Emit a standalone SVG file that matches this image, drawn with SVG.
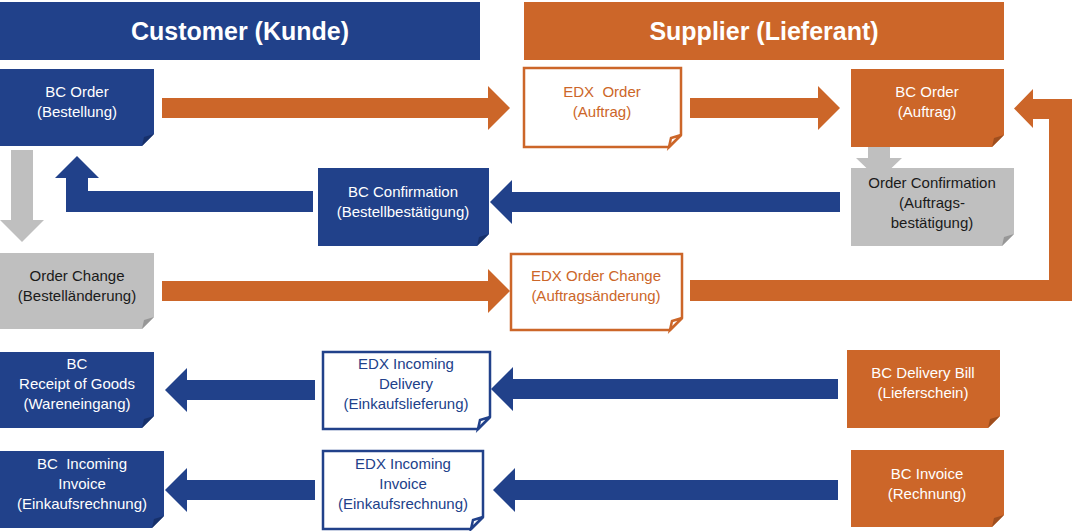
<svg xmlns="http://www.w3.org/2000/svg" width="1072" height="531" viewBox="0 0 1072 531">
<style>
.hdr{font-family:"Liberation Sans",Arial,sans-serif;font-weight:bold;font-size:25px;fill:#fff;text-anchor:middle}
.t{font-family:"Liberation Sans",Arial,sans-serif;font-size:15px;text-anchor:middle}
.w{fill:#fff}.k{fill:#1a1a1a}.ob{fill:#CC6629}.bb{fill:#21418A}
.blue{fill:#21418A}.orange{fill:#CC6629}.gray{fill:#BFBFBF}
.bfold{fill:#17306A}.ofold{fill:#9E4E1E}.gfold{fill:#979797}
.oout{fill:#fff;stroke:#CC6629;stroke-width:2.5}
.bout{fill:#fff;stroke:#21418A;stroke-width:2.5}
</style>
<rect fill="#fff" x="0" y="0" width="1072" height="531"/>
<g id="header-customer"><rect class="blue" x="0" y="2" width="480" height="58"/><text class="hdr" x="240" y="40">Customer (Kunde)</text></g>
<g id="header-supplier"><rect class="orange" x="524" y="2" width="480" height="58"/><text class="hdr" x="764" y="40">Supplier (Lieferant)</text></g>
<g id="connectors">
<polygon class="orange" points="162,98 488,98 488,86 510,108 488,130 488,118 162,118"/>
<polygon class="orange" points="690,98 818,98 818,86 840,108 818,130 818,118 690,118"/>
<polygon class="gray" points="11,150 33,150 33,220 44,220 22,242 0,220 11,220"/>
<polygon class="gray" points="868,147 890,147 890,158 902,158 879,180 856,158 868,158"/>
<polygon class="blue" points="313,191 313,212 66,212 66,178 55,178 77,156 99,178 88,178 88,191"/>
<polygon class="blue" points="840,192 512,192 512,180 490,202 512,224 512,212 840,212"/>
<polygon class="orange" points="162,281 488,281 488,269 510,291 488,313 488,301 162,301"/>
<polygon class="orange" points="690,280 1049,280 1049,119 1033,119 1033,128 1014,108.5 1033,89 1033,99 1072,99 1072,301 690,301"/>
<polygon class="blue" points="838,379 513,379 513,367 491,389 513,411 513,399 838,399"/>
<polygon class="blue" points="315,380 187,380 187,368 165,390 187,412 187,400 315,400"/>
<polygon class="blue" points="838,480 515,480 515,468 493,490 515,512 515,500 838,500"/>
<polygon class="blue" points="315,480 187,480 187,468 165,490 187,512 187,500 315,500"/>
</g>
<g id="bc-order-customer"><polygon class="blue" points="0,69 154,69 154,134 142,146 0,146"/><polygon class="bfold" points="142,146 144,137 154,134"/><text class="t w" x="77" y="97">BC Order</text><text class="t w" x="77" y="117">(Bestellung)</text></g>
<g id="edx-order"><polygon class="oout" points="524,68 681,68 681,135 669,147 524,147"/><polygon class="oout" points="669,147 671,138 681,135"/><text class="t ob" x="602" y="97" xml:space="preserve">EDX  Order</text><text class="t ob" x="602" y="117">(Auftrag)</text></g>
<g id="bc-order-supplier"><polygon class="orange" points="851,69 1004,69 1004,135 992,147 851,147"/><polygon class="ofold" points="992,147 994,138 1004,135"/><text class="t w" x="927" y="97">BC Order</text><text class="t w" x="927" y="117">(Auftrag)</text></g>
<g id="order-confirmation"><polygon class="gray" points="851,168 1014,168 1014,234 1002,246 851,246"/><polygon class="gfold" points="1002,246 1004,237 1014,234"/><text class="t k" x="932" y="188">Order Confirmation</text><text class="t k" x="932" y="208">(Auftrags-</text><text class="t k" x="932" y="228">bestätigung)</text></g>
<g id="bc-confirmation"><polygon class="blue" points="318,168 489,168 489,234 477,246 318,246"/><polygon class="bfold" points="477,246 479,237 489,234"/><text class="t w" x="403" y="197">BC Confirmation</text><text class="t w" x="403" y="217">(Bestellbestätigung)</text></g>
<g id="order-change"><polygon class="gray" points="0,253 154,253 154,317 142,329 0,329"/><polygon class="gfold" points="142,329 144,320 154,317"/><text class="t k" x="77" y="281">Order Change</text><text class="t k" x="77" y="301">(Bestelländerung)</text></g>
<g id="edx-order-change"><polygon class="oout" points="511,254 682,254 682,318 670,330 511,330"/><polygon class="oout" points="670,330 672,321 682,318"/><text class="t ob" x="596" y="281">EDX Order Change</text><text class="t ob" x="596" y="301">(Auftragsänderung)</text></g>
<g id="bc-receipt-of-goods"><polygon class="blue" points="0,352 154,352 154,416 142,428 0,428"/><polygon class="bfold" points="142,428 144,419 154,416"/><text class="t w" x="77" y="369">BC</text><text class="t w" x="77" y="389">Receipt of Goods</text><text class="t w" x="77" y="409">(Wareneingang)</text></g>
<g id="edx-incoming-delivery"><polygon class="bout" points="323,352 490,352 490,417 478,429 323,429"/><polygon class="bout" points="478,429 480,420 490,417"/><text class="t bb" x="406" y="369">EDX Incoming</text><text class="t bb" x="406" y="389">Delivery</text><text class="t bb" x="406" y="409">(Einkaufslieferung)</text></g>
<g id="bc-delivery-bill"><polygon class="orange" points="847,350 1000,350 1000,416 988,428 847,428"/><polygon class="ofold" points="988,428 990,419 1000,416"/><text class="t w" x="923" y="378">BC Delivery Bill</text><text class="t w" x="923" y="398">(Lieferschein)</text></g>
<g id="bc-incoming-invoice"><polygon class="blue" points="0,451 164,451 164,516 152,528 0,528"/><polygon class="bfold" points="152,528 154,519 164,516"/><text class="t w" x="82" y="469" xml:space="preserve">BC  Incoming</text><text class="t w" x="82" y="489">Invoice</text><text class="t w" x="82" y="509">(Einkaufsrechnung)</text></g>
<g id="edx-incoming-invoice"><polygon class="bout" points="323,451 483,451 483,517 471,529 323,529"/><polygon class="bout" points="471,529 473,520 483,517"/><text class="t bb" x="403" y="469">EDX Incoming</text><text class="t bb" x="403" y="489">Invoice</text><text class="t bb" x="403" y="509">(Einkaufsrechnung)</text></g>
<g id="bc-invoice"><polygon class="orange" points="851,450 1004,450 1004,515 992,527 851,527"/><polygon class="ofold" points="992,527 994,518 1004,515"/><text class="t w" x="927" y="479">BC Invoice</text><text class="t w" x="927" y="499">(Rechnung)</text></g>
</svg>
